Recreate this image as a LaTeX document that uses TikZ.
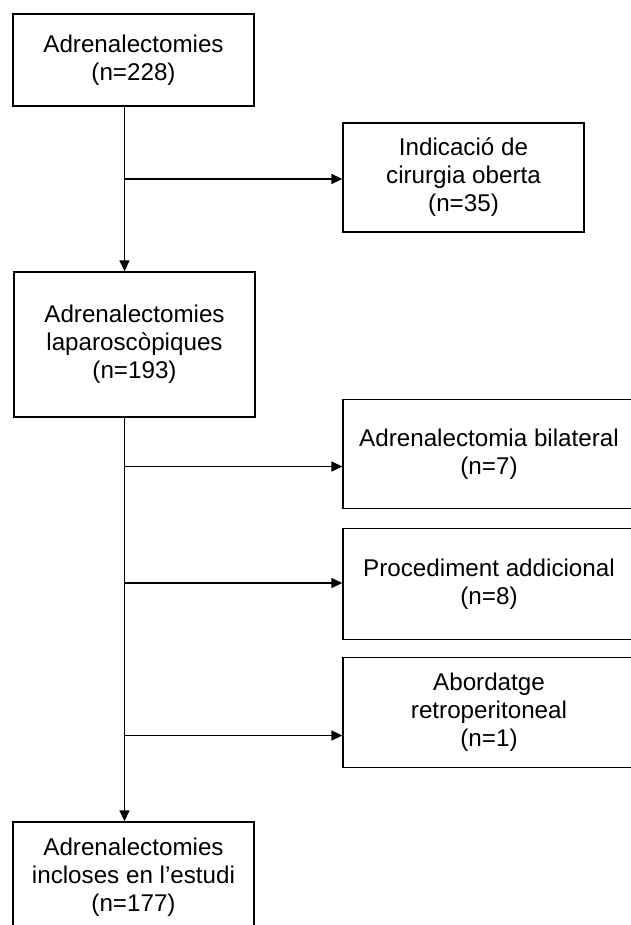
\documentclass[tikz,border=0pt]{standalone}
\usepackage{fontspec}
\setmainfont{Liberation Sans}
\usetikzlibrary{arrows.meta}
\begin{document}
\begin{tikzpicture}[x=1pt,y=-1pt,
  box/.style={draw, line width=1.3pt, align=center, inner sep=0pt,
    font=\fontsize{24.2}{28}\selectfont},
  arr/.style={line width=1.3pt, -{Triangle[length=11pt,width=10pt]}}]
\useasboundingbox (0,0) rectangle (630,925);
\node[box, minimum width=241pt, minimum height=92pt] (b1) at (133.5,60) {Adrenalectomies\\(n=228)};
\node[box, minimum width=241pt, minimum height=109pt] (b2) at (463.5,177.5) {Indicació de\\cirurgia oberta\\(n=35)};
\node[box, minimum width=241pt, minimum height=145pt] (b3) at (134.5,344.5) {Adrenalectomies\\laparoscòpiques\\(n=193)};
\node[box, minimum width=292pt, minimum height=109pt] (b4) at (489,454) {Adrenalectomia bilateral\\(n=7)};
\node[box, minimum width=292pt, minimum height=110.5pt] (b5) at (489,584) {Procediment addicional\\(n=8)};
\node[box, minimum width=292pt, minimum height=110pt] (b6) at (489,712.5) {Abordatge\\retroperitoneal\\(n=1)};
\node[box, minimum width=241pt, minimum height=110pt] (b7) at (133.5,877) {Adrenalectomies\\incloses en l’estudi\\(n=177)};
\coordinate (vx) at (124.5,0);
\draw[arr] (vx |- b1.south) -- (vx |- b3.north);
\draw[arr] (vx |- b3.south) -- (vx |- b7.north);
\draw[arr] (vx |- 0,179) -- (b2.west |- 0,179);
\draw[arr] (vx |- 0,466.5) -- (b4.west |- 0,466.5);
\draw[arr] (vx |- 0,583) -- (b5.west |- 0,583);
\draw[arr] (vx |- 0,735.5) -- (b6.west |- 0,735.5);
\end{tikzpicture}
\end{document}
